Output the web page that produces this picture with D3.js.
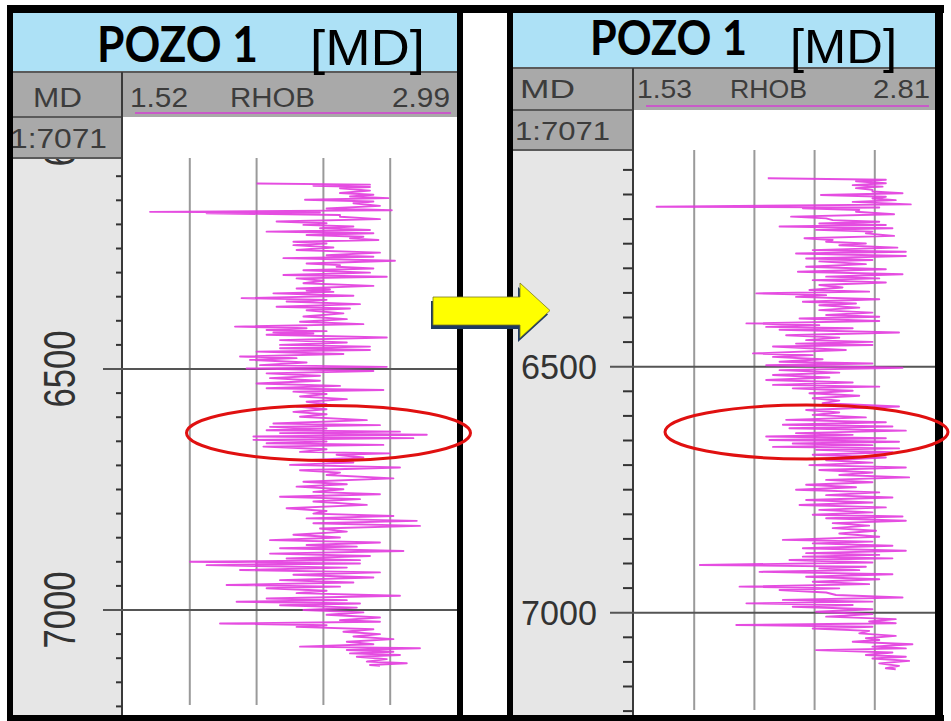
<!DOCTYPE html>
<html><head><meta charset="utf-8">
<script src="https://cdn.jsdelivr.net/npm/d3@7/dist/d3.min.js"></script>
<style>body{margin:0;background:#fff}svg{display:block}</style>
</head><body>
<script>
// ---------- DATA ----------
const wellName = "POZO 1";
const depthRef = "[MD]";
const depthColName = "MD";
const curveName = "RHOB";
const scaleText = "1:7071";
const rhobRangeLeft = [1.52, 2.99];
const rhobRangeRight = [1.53, 2.81];
const depthLabels = [6000, 6500, 7000];
const depthMinorTicks = [6100,6150,6200,6250,6300,6350,6400,6450,6550,6600,6650,6700,6750,6800,6850,6900,6950,7050,7100,7150,7200];

// left log (original) : depth, swing minimum, swing maximum
const depthL = [6115,6120,6125,6135,6142,6149,6156,6167,6174,6177,6184,6194,6201,6208,6215,6222,6229,6236,6243,6253,6264,6270,6281,6288,6295,6305,6312,6322,6333,6337,6343,6353,6360,6371,6378,6391,6402,6412,6419,6424,6429,6440,6450,6457,6464,6474,6481,6492,6499,6509,6519,6530,6540,6547,6557,6568,6578,6589,6599,6613,6620,6627,6633,6640,6647,6654,6661,6672,6678,6689,6699,6710,6720,6734,6744,6755,6765,6775,6789,6800,6810,6820,6831,6844,6855,6865,6872,6883,6893,6900,6907,6917,6927,6938,6948,6955,6965,6976,6983,6990,7000,7010,7021,7028,7035,7045,7055,7066,7076,7083,7090,7097,7107,7114];
const minL = [2.108,2.358,2.475,2.475,2.519,2.321,2.534,2.416,1.639,1.888,2.475,2.196,2.314,2.387,2.152,2.328,2.519,2.270,2.270,2.284,2.416,2.226,2.328,2.460,2.314,2.226,2.284,2.314,2.284,2.328,2.182,2.042,2.240,2.196,2.328,2.314,2.299,2.013,2.152,2.182,2.152,2.211,2.211,2.211,2.108,2.035,2.079,2.123,2.064,2.152,2.167,2.108,2.152,2.270,2.299,2.328,2.284,2.270,2.299,2.182,2.167,2.152,2.211,2.094,2.094,2.152,2.138,2.299,2.460,2.328,2.255,2.299,2.416,2.314,2.284,2.358,2.211,2.358,2.240,2.358,2.328,2.358,2.387,2.270,2.167,2.328,2.211,2.167,2.240,1.815,1.888,2.035,2.270,2.211,1.976,2.152,2.284,2.152,2.020,2.211,2.314,2.416,2.475,1.947,2.284,2.490,2.534,2.505,2.299,2.505,2.519,2.549,2.593,2.607];
const maxL = [2.607,2.607,2.607,2.622,2.688,2.622,2.651,2.703,2.387,2.475,2.651,2.416,2.534,2.607,2.622,2.578,2.644,2.416,2.446,2.651,2.622,2.717,2.475,2.622,2.607,2.681,2.402,2.622,2.431,2.446,2.534,2.416,2.563,2.519,2.490,2.505,2.578,2.328,2.416,2.358,2.681,2.505,2.607,2.607,2.490,2.284,2.328,2.681,2.622,2.387,2.387,2.475,2.666,2.416,2.505,2.416,2.416,2.416,2.593,2.651,2.416,2.739,2.857,2.798,2.416,2.666,2.416,2.695,2.578,2.534,2.739,2.475,2.710,2.505,2.490,2.651,2.563,2.593,2.416,2.710,2.813,2.827,2.505,2.475,2.651,2.549,2.754,2.607,2.563,2.563,2.505,2.651,2.622,2.534,2.475,2.416,2.739,2.505,2.563,2.549,2.578,2.651,2.651,2.416,2.622,2.651,2.710,2.622,2.827,2.710,2.739,2.681,2.769,2.651];

// right log (after correction)
const depthR = [6117,6123,6131,6137,6144,6151,6158,6165,6175,6178,6185,6195,6202,6209,6215,6222,6229,6239,6246,6253,6263,6270,6280,6286,6297,6307,6317,6324,6334,6344,6351,6358,6368,6375,6385,6395,6402,6412,6419,6425,6436,6446,6453,6459,6473,6480,6490,6497,6507,6517,6527,6537,6544,6554,6564,6574,6588,6598,6608,6618,6625,6635,6642,6649,6656,6663,6669,6679,6690,6700,6710,6720,6730,6740,6750,6761,6771,6781,6791,6801,6808,6818,6828,6839,6852,6859,6869,6879,6886,6893,6903,6910,6917,6927,6937,6947,6954,6964,6974,6981,6988,6998,7008,7018,7025,7032,7042,7052,7059,7069,7076,7086,7093,7103,7113];
const minR = [2.099,2.474,2.460,2.474,2.544,2.325,2.544,2.460,1.626,2.248,2.474,2.198,2.375,2.318,2.149,2.304,2.516,2.255,2.347,2.403,2.290,2.219,2.262,2.318,2.262,2.227,2.347,2.290,2.318,2.276,2.050,2.219,2.248,2.318,2.318,2.347,2.234,2.008,2.092,2.149,2.177,2.262,2.219,2.121,2.036,2.121,2.149,2.092,2.149,2.121,2.092,2.121,2.205,2.276,2.290,2.332,2.262,2.290,2.177,2.163,2.191,2.219,2.092,2.106,2.205,2.121,2.304,2.290,2.347,2.276,2.318,2.403,2.347,2.262,2.219,2.347,2.262,2.234,2.318,2.290,2.347,2.375,2.375,2.403,2.163,2.290,2.248,2.262,2.248,2.191,1.810,2.318,2.064,2.262,2.290,1.979,2.149,2.389,2.163,2.008,2.205,2.304,2.347,2.530,1.965,2.290,2.488,2.516,2.460,2.544,2.304,2.516,2.544,2.573,2.601];
const maxR = [2.601,2.601,2.587,2.544,2.672,2.601,2.643,2.707,2.573,2.488,2.636,2.347,2.573,2.601,2.629,2.544,2.636,2.375,2.516,2.650,2.686,2.686,2.544,2.516,2.601,2.672,2.573,2.601,2.417,2.530,2.347,2.573,2.474,2.488,2.544,2.573,2.573,2.318,2.460,2.657,2.403,2.544,2.544,2.431,2.290,2.332,2.544,2.672,2.403,2.361,2.460,2.573,2.460,2.488,2.403,2.657,2.403,2.516,2.601,2.629,2.686,2.460,2.601,2.657,2.544,2.657,2.629,2.601,2.544,2.686,2.544,2.700,2.544,2.474,2.573,2.629,2.544,2.601,2.544,2.672,2.686,2.530,2.559,2.573,2.544,2.629,2.686,2.573,2.629,2.544,2.516,2.488,2.629,2.573,2.530,2.403,2.347,2.672,2.544,2.460,2.544,2.544,2.643,2.643,2.544,2.530,2.643,2.573,2.714,2.686,2.629,2.686,2.700,2.657,2.643];

// ---------- DRAW ----------
const W = 951, H = 721;
const svg = d3.select("body").append("svg").attr("width", W).attr("height", H);
const SANS = "'Liberation Sans', Arial, sans-serif";
const CYAN = "#ADE1F6", GRAY = "#A9A9A9", TRACK = "#E6E6E6";
const TRACE = "#E23ADE";

svg.append("rect").attr("width", W).attr("height", H).attr("fill", "#fff");

const panels = [
  { key: "L", x0: 13, x1: 457, titleB: 72, hdrB: 117, scaleB: 158, div: 122, plotX0: 123, bottom: 715,
    yPx: [369, 610], range: rhobRangeLeft, depth: depthL, min: minL, max: maxL, rotated: true, lblHalf: 38,
    titleA: {x: 97, w: 161, y: 62, fs: 50}, titleB2: {x: 310, w: 115, y: 65, fs: 50},
    hdrBase: 107, hdrFs: 27, scaleBase: 148, under: 113, gridEnd: 705,
    hdrText: {md: [33, 49], lo: [130, 58], name: [230, 85], hi: [392, 58]}, scaleTxt: [10, 97],
    tickX0: 116, majorX0: 103 },
  { key: "R", x0: 513, x1: 935, titleB: 68, hdrB: 110, scaleB: 150, div: 633, plotX0: 634, bottom: 715,
    yPx: [366.7, 612.7], range: rhobRangeRight, depth: depthR, min: minR, max: maxR, rotated: false, lblHalf: 13,
    titleA: {x: 590, w: 157, y: 55, fs: 48}, titleB2: {x: 790, w: 107, y: 63, fs: 48},
    hdrBase: 98, hdrFs: 25, scaleBase: 140, under: 106, gridEnd: 710,
    hdrText: {md: [520, 55], lo: [637, 55], name: [730, 77], hi: [873, 57]}, scaleTxt: [515, 95],
    tickX0: 623, majorX0: 610 }
];

panels.forEach(p => {
  const g = svg.append("g");
  const y = d3.scaleLinear().domain([6500, 7000]).range(p.yPx);
  const x = d3.scaleLinear().domain(p.range).range([p.plotX0, p.x1]);

  // backgrounds
  g.append("rect").attr("x", p.x0).attr("y", 13).attr("width", p.x1 - p.x0).attr("height", p.titleB - 13).attr("fill", CYAN);
  g.append("rect").attr("x", p.x0).attr("y", p.titleB).attr("width", p.x1 - p.x0).attr("height", p.hdrB - p.titleB).attr("fill", GRAY);
  g.append("rect").attr("x", p.x0).attr("y", p.hdrB).attr("width", p.div - p.x0).attr("height", p.scaleB - p.hdrB).attr("fill", GRAY);
  g.append("rect").attr("x", p.x0).attr("y", p.scaleB).attr("width", p.div - p.x0).attr("height", p.bottom - p.scaleB).attr("fill", TRACK);
  g.append("rect").attr("x", p.plotX0).attr("y", p.hdrB).attr("width", p.x1 - p.plotX0).attr("height", p.bottom - p.hdrB).attr("fill", "#fff");

  // cell borders
  const line = (x1, y1, x2, y2, c, w) => g.append("line").attr("x1", x1).attr("y1", y1).attr("x2", x2).attr("y2", y2).attr("stroke", c).attr("stroke-width", w);
  line(p.x0, p.titleB, p.x1, p.titleB, "#5a5a5a", 2);
  line(p.x0, p.hdrB, p.div, p.hdrB, "#5a5a5a", 2);
  line(p.x0, p.scaleB, p.div, p.scaleB, "#5a5a5a", 2);
  line(p.div, p.titleB, p.div, p.bottom, "#3a3a3a", 2);
  // curve underline
  line(p.plotX0 + 12, p.under, p.x1 - 6, p.under, "#C85AC8", 2.2);

  // gridlines
  const xs = d3.range(1, 5).map(i => p.plotX0 + i * (p.x1 - p.plotX0) / 5);
  g.selectAll(".grid").data(xs).join("line")
    .attr("x1", d => d).attr("x2", d => d).attr("y1", p.scaleB).attr("y2", p.gridEnd)
    .attr("stroke", "#9a9a9a").attr("stroke-width", 2);

  // minor ticks
  g.selectAll(".tk").data(depthMinorTicks).join("line")
    .attr("x1", p.tickX0).attr("x2", p.div).attr("y1", d => y(d)).attr("y2", d => y(d))
    .attr("stroke", "#333").attr("stroke-width", 2);
  // major lines
  g.selectAll(".mj").data(depthLabels.filter(d => y(d) > p.scaleB)).join("line")
    .attr("x1", p.majorX0).attr("x2", p.x1).attr("y1", d => y(d)).attr("y2", d => y(d))
    .attr("stroke", "#555").attr("stroke-width", 2);

  // trace
  const clipId = "clip" + p.key;
  svg.append("clipPath").attr("id", clipId).append("rect")
    .attr("x", p.plotX0).attr("y", p.scaleB).attr("width", p.x1 - p.plotX0).attr("height", p.bottom - p.scaleB);
  const pts = [];
  p.depth.forEach((d, i) => {
    const next = i < p.depth.length - 1 ? p.depth[i + 1] : d + 4;
    pts.push([p.min[i], d]);
    pts.push([p.max[i], d + (next - d) / 2]);
  });
  const ln = d3.line().x(d => x(d[0])).y(d => y(d[1]));
  g.append("path").attr("clip-path", `url(#${clipId})`).attr("d", ln(pts))
    .attr("fill", "none").attr("stroke", TRACE).attr("stroke-width", 1.9).attr("stroke-opacity", 0.9)
    .attr("stroke-linejoin", "round");

  // depth labels (only those that reach into the depth track)
  const lblClip = "lclip" + p.key;
  svg.append("clipPath").attr("id", lblClip).append("rect")
    .attr("x", p.x0).attr("y", p.scaleB + 1).attr("width", p.div - p.x0).attr("height", p.bottom - p.scaleB);
  const lg = g.append("g").attr("clip-path", `url(#${lblClip})`);
  depthLabels.filter(d => y(d) + p.lblHalf > p.scaleB).forEach(d => {
    if (p.rotated) {
      lg.append("text").attr("transform", `translate(75,${y(d)}) rotate(-90)`)
        .attr("text-anchor", "middle").attr("font-family", SANS).attr("font-size", 45)
        .attr("fill", "#333").attr("textLength", 77).attr("lengthAdjust", "spacingAndGlyphs").text(d);
    } else {
      lg.append("text").attr("x", 521).attr("y", y(d) + 12.5)
        .attr("font-family", SANS).attr("font-size", 35)
        .attr("fill", "#333").attr("textLength", 76).attr("lengthAdjust", "spacingAndGlyphs").text(d);
    }
  });

  // header texts
  const ht = (txt, pos, base, fs) => g.append("text").attr("x", pos[0]).attr("y", base)
    .attr("font-family", SANS).attr("font-size", fs).attr("fill", "#3c3c3c")
    .attr("textLength", pos[1]).attr("lengthAdjust", "spacingAndGlyphs").text(txt);
  ht(depthColName, p.hdrText.md, p.hdrBase, p.hdrFs);
  ht(p.range[0].toFixed(2), p.hdrText.lo, p.hdrBase, p.hdrFs);
  ht(curveName, p.hdrText.name, p.hdrBase, p.hdrFs);
  ht(p.range[1].toFixed(2), p.hdrText.hi, p.hdrBase, p.hdrFs);
  ht(scaleText, p.scaleTxt, p.scaleBase, p.hdrFs);

  // title
  g.append("text").attr("x", p.titleA.x).attr("y", p.titleA.y)
    .attr("font-family", "Lato, 'Open Sans', sans-serif").attr("font-weight", 700).attr("font-size", p.titleA.fs)
    .attr("fill", "#000").attr("textLength", p.titleA.w).attr("lengthAdjust", "spacingAndGlyphs").text(wellName);
  g.append("text").attr("x", p.titleB2.x).attr("y", p.titleB2.y)
    .attr("font-family", SANS).attr("font-size", p.titleB2.fs)
    .attr("fill", "#000").attr("textLength", p.titleB2.w).attr("lengthAdjust", "spacingAndGlyphs").text(depthRef);
});

// black frame and panel borders
const bk = (x, y, w, h) => svg.append("rect").attr("x", x).attr("y", y).attr("width", w).attr("height", h).attr("fill", "#000");
bk(7, 5, 937, 8);      // top
bk(7, 5, 6, 716);      // left
bk(7, 715, 937, 6);    // bottom
bk(457, 5, 6, 716);    // left panel right border
bk(507, 5, 6, 716);    // right panel left border
bk(935, 5, 8, 716);    // right

// arrow
const arrow = [[433,297],[520,297],[520,283],[550,310.5],[520,338],[520,325],[433,325]];
svg.append("polygon").attr("points", arrow.map(d => [d[0] - 2, d[1] + 4].join(",")).join(" ")).attr("fill", "#1F3A60");
svg.append("polygon").attr("points", arrow.map(d => d.join(",")).join(" ")).attr("fill", "#FFFF00")
  .attr("stroke", "#7a7a20").attr("stroke-width", 0.8);

// red ellipses
[[328.5, 433, 142, 27.5], [806.5, 432, 141.5, 27]].forEach(e => {
  svg.append("ellipse").attr("cx", e[0]).attr("cy", e[1]).attr("rx", e[2]).attr("ry", e[3])
    .attr("fill", "none").attr("stroke", "#E01010").attr("stroke-width", 3);
});
</script>
</body></html>
